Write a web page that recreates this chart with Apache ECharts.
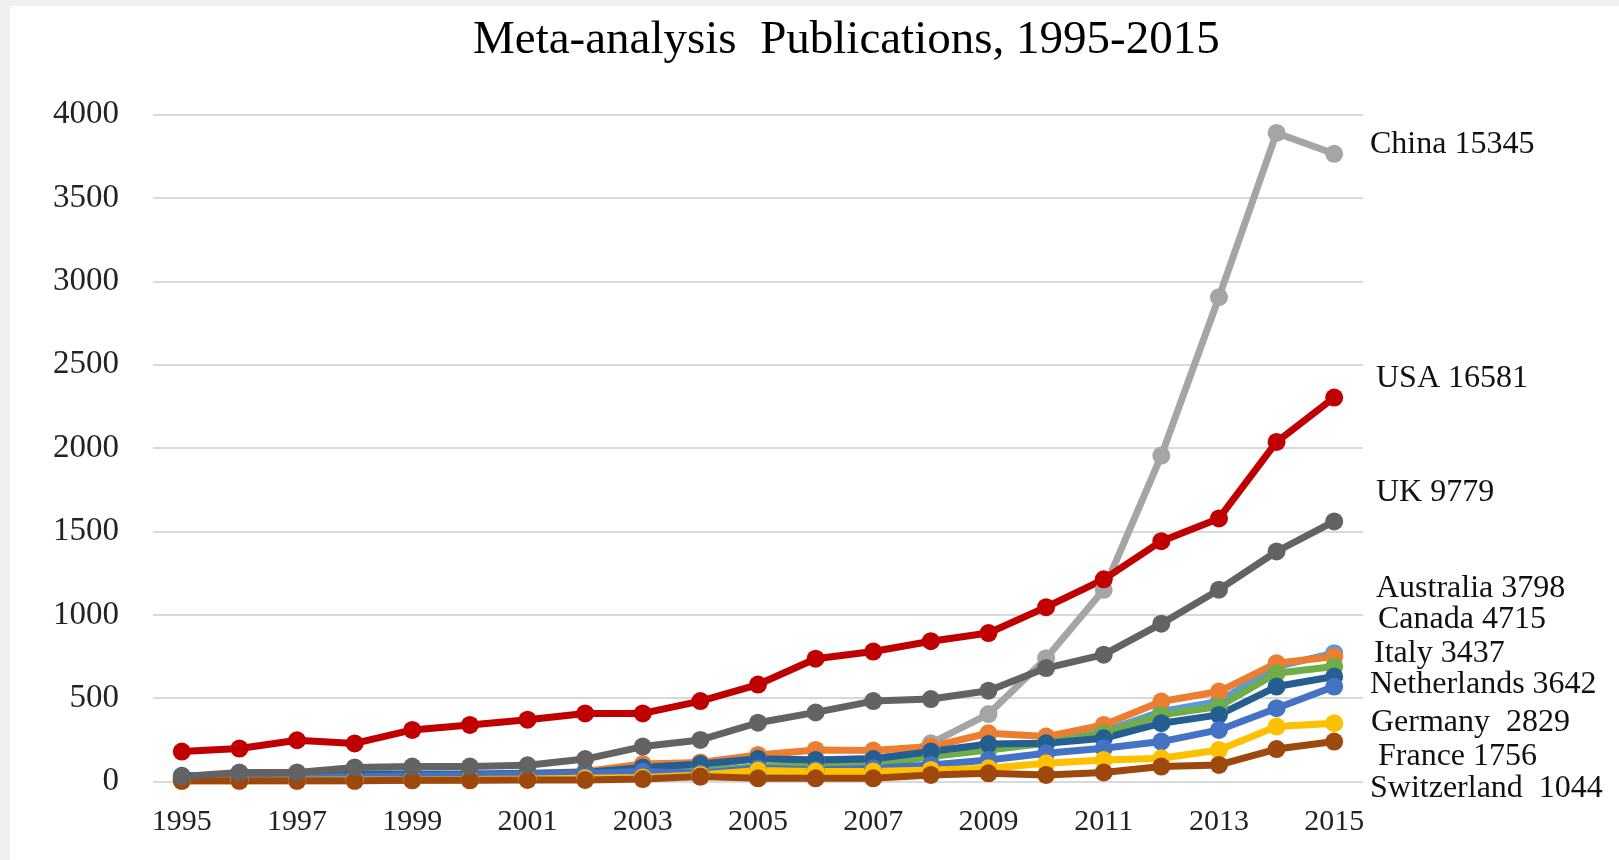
<!DOCTYPE html>
<html>
<head>
<meta charset="utf-8">
<script src="https://cdn.jsdelivr.net/npm/echarts@6/dist/echarts.min.js"></script>
<style>
  html, body { margin: 0; padding: 0; background: #f0f0f0; }
  #chart { position: absolute; left: 10px; top: 6px; width: 1609px; height: 854px; background: #fff; }
</style>
</head>
<body>
<div id="chart"></div>
<script>
const years = ['1995','1996','1997','1998','1999','2000','2001','2002','2003','2004','2005',
  '2006','2007','2008','2009','2010','2011','2012','2013','2014','2015'];

const australia   = [20, 25, 30, 35, 35, 40, 45, 50, 70, 90, 140, 130, 140, 180, 220, 230, 300, 420, 480, 690, 770];
const canada      = [10, 15, 20, 25, 30, 35, 45, 60, 105, 115, 160, 190, 186, 210, 290, 270, 340, 480, 540, 710, 750];
const italy       = [15, 20, 20, 25, 25, 30, 35, 40, 50, 60, 90, 90, 100, 150, 190, 230, 290, 400, 450, 650, 690];
const netherlands = [35, 40, 40, 45, 45, 45, 50, 55, 85, 105, 137, 130, 135, 180, 225, 230, 260, 350, 400, 570, 630];
const germany     = [15, 20, 25, 30, 35, 40, 45, 50, 60, 50, 80, 70, 80, 100, 130, 170, 200, 240, 310, 440, 570];
const france      = [5, 5, 8, 10, 10, 12, 15, 20, 25, 40, 66, 60, 60, 70, 80, 110, 130, 140, 190, 330, 350];
const switzerland = [5, 5, 5, 5, 8, 8, 10, 10, 15, 30, 20, 20, 20, 40, 50, 40, 55, 90, 100, 195, 240];
const china       = [5, 5, 5, 5, 8, 10, 15, 20, 25, 30, 50, 60, 100, 230, 405, 740, 1150, 1955, 2905, 3890, 3765];
const usa         = [180, 198, 248, 229, 310, 340, 371, 409, 409, 483, 582, 737, 780, 842, 891, 1046, 1213, 1442, 1578, 2037, 2303];
const uk          = [30, 55, 55, 85, 90, 90, 98, 135, 210, 250, 353, 415, 483, 495, 545, 681, 761, 947, 1151, 1380, 1560];

const yTicks = [0, 500, 1000, 1500, 2000, 2500, 3000, 3500, 4000];
const endLabels = ['China 15345', 'USA 16581', 'UK 9779', 'Australia 3798', 'Canada 4715',
  'Italy 3437', 'Netherlands 3642', 'Germany  2829', 'France 1756', 'Switzerland  1044'];

const font = '"Liberation Serif", "Times New Roman", serif';

function line(name, data, color) {
  return {
    name: name,
    type: 'line',
    data: data,
    symbol: 'circle',
    symbolSize: 18,
    lineStyle: { width: 7, color: color },
    itemStyle: { color: color },
    animation: false
  };
}

// label placement next to the right edge of the plot (x, centre y)
const labelPos = [[1360, 139], [1366, 373], [1366, 487], [1366, 583], [1368, 614],
  [1364, 648], [1360, 679], [1361, 717], [1368, 751], [1360, 783]];

const chart = echarts.init(document.getElementById('chart'));
chart.setOption({
  backgroundColor: '#fff',
  title: {
    text: 'Meta-analysis  Publications, 1995-2015',
    left: 458,
    top: 6,
    textStyle: { fontFamily: font, fontSize: 47, fontWeight: 'normal', color: '#000' }
  },
  grid: { left: 143, right: 256, top: 108.6, bottom: 78.4 },
  xAxis: {
    type: 'category',
    data: years,
    boundaryGap: true,
    axisLine: { show: false },
    axisTick: { show: false },
    axisLabel: { interval: 1, margin: 26, fontFamily: font, fontSize: 30, color: '#222' }
  },
  yAxis: {
    type: 'value',
    min: yTicks[0],
    max: yTicks[yTicks.length - 1],
    interval: 500,
    axisLine: { show: false },
    axisTick: { show: false },
    splitLine: { lineStyle: { color: '#d9d9d9', width: 2 } },
    axisLabel: { margin: 34, fontFamily: font, fontSize: 33, color: '#222', formatter: v => String(v) }
  },
  series: [
    line('China', china, '#a5a5a5'),
    line('Australia', australia, '#5b9bd5'),
    line('Canada', canada, '#ed7d31'),
    line('Italy', italy, '#70ad47'),
    line('Netherlands', netherlands, '#255e91'),
    line('Germany', germany, '#4472c4'),
    line('France', france, '#ffc000'),
    line('Switzerland', switzerland, '#9e480e'),
    line('UK', uk, '#636363'),
    line('USA', usa, '#c00000')
  ],
  graphic: endLabels.map((t, i) => ({
    type: 'text',
    x: labelPos[i][0],
    y: labelPos[i][1],
    style: {
      text: t,
      fontFamily: font,
      fontSize: 32,
      fill: '#111',
      verticalAlign: 'middle'
    }
  }))
});
</script>
</body>
</html>
